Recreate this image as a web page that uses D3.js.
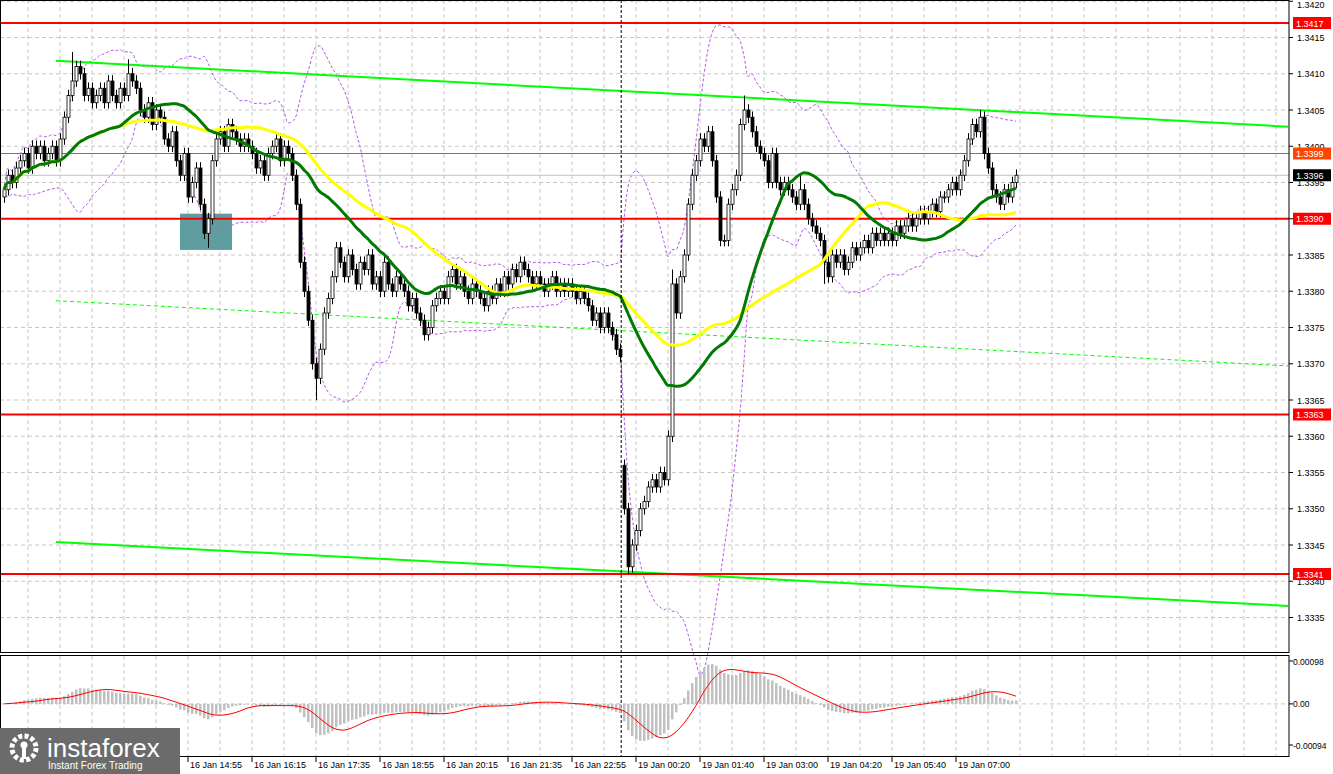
<!DOCTYPE html>
<html><head><meta charset="utf-8">
<script src="https://cdn.jsdelivr.net/npm/d3@7"></script>
<style>body{margin:0;background:#fff}svg{display:block}text{font-family:"Liberation Sans",Arial,sans-serif}</style>
</head><body><svg id="c" width="1333" height="774"></svg>
<script>
// closes in pips above 1.3330, one per 5-minute bar
const closes = [
64,66,65,67,68,69,67,70,69,70,
68,69,70,68,71,74,77,79,81,80,
77,78,76,77,78,76,79,77,76,78,
77,80,79,78,75,74,76,73,75,74,
71,70,72,68,66,69,63,65,67,62,
58,60,68,71,72,70,73,72,71,70,
71,70,69,67,68,66,69,70,71,68,
70,69,66,62,54,50,46,40,38,42,
47,49,52,56,54,52,55,53,51,54,
53,55,51,52,50,54,51,50,52,51,
50,48,49,47,46,44,45,48,49,50,
49,52,53,51,52,50,49,51,50,49,
48,50,49,51,50,52,51,53,52,54,
53,52,51,52,51,50,51,52,50,51,
50,51,50,49,50,49,48,46,47,45,
47,45,44,42,41,20,12,15,17,20,
21,23,24,23,25,24,30,51,47,52,
55,62,66,68,71,70,72,68,63,57,
57,62,64,66,73,75,74,72,70,69,
68,65,69,65,64,65,64,63,62,64,
62,60,59,58,57,54,52,55,54,55,
53,54,56,55,56,57,56,58,57,58,
57,58,57,59,58,59,60,59,60,61,
60,61,62,61,63,63,64,65,64,66,
68,71,73,72,74,69,67,64,63,62,
64,63,65,66];
const firstOpen = 63;
const opens155 = 26; // gap open after weekend
// notable wick extremes [bar, pips]
const extremes = [[17,83],[31,82],[51,56],[78,35],[156,11],[166,28],[167,53],[185,77],[199,66],[205,51],[244,75]];
const priceTicks = ["1.3335","1.3340","1.3345","1.3350","1.3355","1.3360","1.3365","1.3370","1.3375","1.3380","1.3385","1.3390","1.3395","1.3400","1.3405","1.3410","1.3415","1.3420"];
const timeLabels = ["16 Jan 14:55","16 Jan 16:15","16 Jan 17:35","16 Jan 18:55","16 Jan 20:15","16 Jan 21:35","16 Jan 22:55","19 Jan 00:20","19 Jan 01:40","19 Jan 03:00","19 Jan 04:20","19 Jan 05:40","19 Jan 07:00"];
const firstLabelBar = 46, labelStep = 16, weekendBar = 154.3;
const redLevels = [1.3417,1.3390,1.3363,1.3341];
const resistance = 1.3399, lastPrice = 1.3396;
const channelUpper = [[13,81.8],[321,72.7]], channelLower = [[13,15.4],[321,6.6]], channelMid = [[13,48.7],[321,39.7]];
const zone = {b0:44,b1:57,p0:55.7,p1:60.7};
const macdTicks = [0.00098,0,-0.00094];

const P = v => 1.3330 + v/10000;
const svg = d3.select("#c");
const W=1289, H1=652;
const x = d3.scaleLinear().domain([0,321]).range([4,1288]);
const y = d3.scaleLinear().domain([1.3335,1.3420]).range([617.5,1.25]);
const ym = d3.scaleLinear().domain([-0.00094,0.00098]).range([745,661]);

const bars = closes.map((c,i)=>{
  let o = i===0?firstOpen:(i===155?opens155:closes[i-1]);
  return {i,o,c,hi:Math.max(o,c)+0.8,lo:Math.min(o,c)-0.8};
});
extremes.forEach(([i,v])=>{const b=bars[i]; if(v>=Math.max(b.o,b.c)) b.hi=v; else b.lo=Math.min(b.lo,v);});

const g=svg.append("g");
for(let gx=28; gx<W; gx+=32){
  g.append("line").attr("x1",gx).attr("x2",gx).attr("y1",0).attr("y2",H1).attr("stroke","#c8c8c8").attr("stroke-dasharray","4,3");
  g.append("line").attr("x1",gx).attr("x2",gx).attr("y1",656).attr("y2",757).attr("stroke","#c8c8c8").attr("stroke-dasharray","4,3");
}
priceTicks.forEach(t=>g.append("line").attr("x1",0).attr("x2",W).attr("y1",y(+t)).attr("y2",y(+t)).attr("stroke","#c8c8c8").attr("stroke-dasharray","4,3"));
g.append("line").attr("x1",0).attr("x2",W).attr("y1",ym(0)).attr("y2",ym(0)).attr("stroke","#c8c8c8").attr("stroke-dasharray","4,3");

svg.append("rect").attr("x",x(zone.b0)).attr("y",y(P(zone.p1))).attr("width",x(zone.b1)-x(zone.b0)).attr("height",y(P(zone.p0))-y(P(zone.p1))).attr("fill","#5f9ea0");

const sma=(arr,n)=>arr.map((_,i)=>d3.mean(arr.slice(Math.max(0,i-n+1),i+1)));
const ma30=sma(closes,30), ma50=sma(closes,50);
const bb=closes.map((_,i)=>{const s=closes.slice(Math.max(0,i-19),i+1);const m=d3.mean(s);const sd=Math.sqrt(d3.mean(s.map(v=>(v-m)**2)));return {u:m+2*sd,l:m-2*sd};});
const line=d3.line().x((d,i)=>x(i)).y(d=>y(P(d))).curve(d3.curveMonotoneX);
svg.append("path").attr("d",line(bb.map(d=>d.u))).attr("fill","none").attr("stroke","#b45ae6").attr("stroke-dasharray","3,2");
svg.append("path").attr("d",line(bb.map(d=>d.l))).attr("fill","none").attr("stroke","#b45ae6").attr("stroke-dasharray","3,2");

const seg=(pts,col,w,dash)=>svg.append("line").attr("x1",x(pts[0][0])).attr("y1",y(P(pts[0][1]))).attr("x2",x(pts[1][0])).attr("y2",y(P(pts[1][1]))).attr("stroke",col).attr("stroke-width",w).attr("stroke-dasharray",dash||null);
seg(channelUpper,"#00ff00",2); seg(channelLower,"#00ff00",2); seg(channelMid,"#00ff00",1,"4,3");

redLevels.forEach(v=>svg.append("line").attr("x1",0).attr("x2",W).attr("y1",y(v)).attr("y2",y(v)).attr("stroke","#ff0000").attr("stroke-width",2));
svg.append("line").attr("x1",0).attr("x2",W).attr("y1",y(resistance)).attr("y2",y(resistance)).attr("stroke","#ff4500").attr("stroke-width",1);
svg.append("line").attr("x1",0).attr("x2",W).attr("y1",y(lastPrice)).attr("y2",y(lastPrice)).attr("stroke","#c0c0c0").attr("stroke-width",1);

const cg=svg.append("g");
bars.forEach(b=>{
  const cx=Math.round(x(b.i))+0.5;
  cg.append("line").attr("x1",cx).attr("x2",cx).attr("y1",y(P(b.hi))).attr("y2",y(P(b.lo))).attr("stroke","#000");
  const top=y(P(Math.max(b.o,b.c))), bot=y(P(Math.min(b.o,b.c)));
  cg.append("rect").attr("x",cx-1.5).attr("y",top).attr("width",3).attr("height",Math.max(1,bot-top))
    .attr("fill",b.c>=b.o?"#fff":"#000").attr("stroke","#000").attr("stroke-width",0.8);
});

svg.append("path").attr("d",line(ma50)).attr("fill","none").attr("stroke","#ffff00").attr("stroke-width",3);
svg.append("path").attr("d",line(ma30)).attr("fill","none").attr("stroke","#007a00").attr("stroke-width",3);

svg.append("line").attr("x1",x(weekendBar)).attr("x2",x(weekendBar)).attr("y1",0).attr("y2",757).attr("stroke","#000").attr("stroke-dasharray","3,2");

const ema=(arr,n)=>{const k=2/(n+1);let e=arr[0];return arr.map(v=>e=v*k+e*(1-k));};
const e12=ema(closes,12), e26=ema(closes,26);
const macd=closes.map((_,i)=>(e12[i]-e26[i])/10000);
const sig=sma(macd,9);
macd.forEach((m,i)=>svg.append("rect").attr("x",x(i)-1).attr("width",2.5).attr("y",Math.min(ym(m),ym(0))).attr("height",Math.abs(ym(m)-ym(0))).attr("fill","#c0c0c0"));
svg.append("path").attr("d",d3.line().x((d,i)=>x(i)).y(d=>ym(d))(sig)).attr("fill","none").attr("stroke","#ff0000").attr("stroke-width",1);

svg.append("rect").attr("x",0.5).attr("y",0.5).attr("width",W-0.5).attr("height",H1).attr("fill","none").attr("stroke","#000");
svg.append("rect").attr("x",0.5).attr("y",655.5).attr("width",W-0.5).attr("height",101).attr("fill","none").attr("stroke","#000");

const ax=svg.append("g").attr("font-size",9);
priceTicks.forEach(t=>{ax.append("line").attr("x1",W).attr("x2",W+4).attr("y1",y(+t)).attr("y2",y(+t)).attr("stroke","#000");
  ax.append("text").attr("x",W+8).attr("y",Math.max(8,y(+t)+3.5)).text(t);});
const tag=(v,col,txtcol)=>{ax.append("rect").attr("x",W+4).attr("y",y(v)-6).attr("width",38).attr("height",12).attr("fill",col);
  ax.append("text").attr("x",W+7).attr("y",y(v)+3.5).attr("fill",txtcol).text(v.toFixed(4));};
redLevels.forEach(v=>tag(v,"#ff0000","#fff"));
tag(resistance,"#ff4500","#fff"); tag(lastPrice,"#000","#fff");
macdTicks.forEach(t=>{ax.append("line").attr("x1",W).attr("x2",W+4).attr("y1",ym(t)).attr("y2",ym(t)).attr("stroke","#000");
  ax.append("text").attr("x",W+4).attr("y",ym(t)+3.5).attr("font-size",8.5).text(t===0?"0.00":t.toFixed(5));});

timeLabels.forEach((t,k)=>{const tx=x(firstLabelBar+k*labelStep);
  ax.append("line").attr("x1",tx).attr("x2",tx).attr("y1",757).attr("y2",762).attr("stroke","#000");
  ax.append("text").attr("x",tx+2).attr("y",768).text(t);});

const lg=svg.append("g");
lg.append("rect").attr("x",0).attr("y",728).attr("width",180).attr("height",46).attr("fill","#6b6b6b");
lg.append("circle").attr("cx",24).attr("cy",748).attr("r",12).attr("fill","none").attr("stroke","#fff").attr("stroke-width",5).attr("stroke-dasharray","4,2.3");
lg.append("circle").attr("cx",24).attr("cy",745).attr("r",3.5).attr("fill","#fff");
lg.append("rect").attr("x",22).attr("y",747).attr("width",4).attr("height",12).attr("fill","#fff");
lg.append("text").attr("x",47).attr("y",757).attr("fill","#fff").attr("font-size",26).attr("font-family","Lato, sans-serif").text("instaforex");
lg.append("text").attr("x",48).attr("y",769).attr("fill","#fff").attr("font-size",10).text("Instant Forex Trading");
</script></body></html>
